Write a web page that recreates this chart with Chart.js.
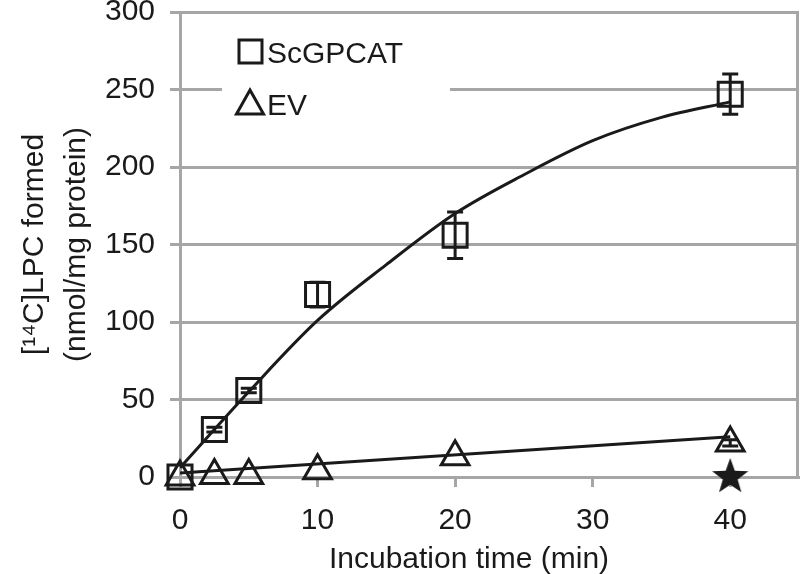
<!DOCTYPE html>
<html>
<head>
<meta charset="utf-8">
<script src="https://cdn.jsdelivr.net/npm/chart.js@4/dist/chart.umd.min.js"></script>
<style>
  body { margin: 0; background: #fff; }
  #wrap { width: 800px; height: 574px; }
</style>
</head>
<body>
<div id="wrap"><canvas id="myChart"></canvas></div>
<script>
// measured points (time in min)
const TIMES = [0, 2.5, 5, 10, 20, 40];
const gpcat_vals = [0, 30.6, 55.8, 117.7, 156, 247];
const gpcat_err = [0, 1.5, 1.5, 8, 15, 13];
const ev_vals = [0, 1, 1, 4, 13, 22];
const ev_err = [0, 0, 0, 0, 0, 2];

// fitted curves
const FIT_X = [0, 5, 10, 15, 20, 25, 30, 35, 40];
const gpcat_fit = [6, 55, 101, 137, 170, 195, 217, 232, 242];
const EV_FIT_X = [0, 40];
const ev_fit = [2.5, 26];

// star marker
const STAR_X = [40];
const star_vals = [0];

const X_TITLE = 'Incubation time (min)';

const INK = "#1a1a1a";
const GRID = "#a6a6a6";
const FONT = "'Liberation Sans', Arial, sans-serif";

const pts = (xs, ys) => xs.map((x, i) => ({ x: x, y: ys[i] }));

// filled star drawn on a small canvas, used as point style
function makeStar() {
  const c = document.createElement('canvas');
  c.width = 40; c.height = 40;
  const g = c.getContext('2d');
  g.beginPath();
  for (let i = 0; i < 10; i++) {
    const r = i % 2 === 0 ? 19 : 7.8;
    const a = -Math.PI / 2 + i * Math.PI / 5;
    const px = 20 + r * Math.cos(a), py = 20 + r * Math.sin(a);
    if (i === 0) g.moveTo(px, py); else g.lineTo(px, py);
  }
  g.closePath();
  g.fillStyle = INK;
  g.fill();
  return c;
}

// 오차 막대 + 범례 + x축 제목
const errorBars = {
  id: 'errorBars',
  afterDatasetsDraw(chart) {
    const ctx = chart.ctx;
    const xs = chart.scales.x, ys = chart.scales.y;
    const draw = (vals, errs) => {
      vals.forEach((v, i) => {
        const e = errs[i];
        if (!e) return;
        const px = xs.getPixelForValue(TIMES[i]);
        const y1 = ys.getPixelForValue(v - e), y2 = ys.getPixelForValue(v + e);
        ctx.save();
        ctx.strokeStyle = INK;
        ctx.lineWidth = 3;
        ctx.beginPath();
        ctx.moveTo(px, y1); ctx.lineTo(px, y2);
        ctx.moveTo(px - 8, y1); ctx.lineTo(px + 8, y1);
        ctx.moveTo(px - 8, y2); ctx.lineTo(px + 8, y2);
        ctx.stroke();
        ctx.restore();
      });
    };
    draw(gpcat_vals, gpcat_err);
    draw(ev_vals, ev_err);
  },
  afterDraw(chart) {
    const ctx = chart.ctx;
    const a = chart.chartArea;
    ctx.save();
    // right frame line
    ctx.strokeStyle = GRID;
    ctx.lineWidth = 3;
    ctx.beginPath();
    ctx.moveTo(a.right - 1.5, a.top);
    ctx.lineTo(a.right - 1.5, a.bottom);
    ctx.stroke();

    // legend box
    ctx.fillStyle = '#fff';
    ctx.fillRect(222, 26, 228, 100);
    ctx.strokeStyle = INK;
    ctx.lineWidth = 3;
    ctx.strokeRect(239, 40, 23, 23);
    ctx.beginPath();
    ctx.moveTo(250, 90); ctx.lineTo(263.5, 114); ctx.lineTo(236.5, 114);
    ctx.closePath();
    ctx.stroke();
    ctx.fillStyle = INK;
    ctx.font = "30px " + FONT;
    ctx.textBaseline = 'alphabetic';
    ctx.fillText(chart.data.datasets[0].label, 267, 63);
    ctx.fillText(chart.data.datasets[1].label, 267, 115);

    // x axis title
    ctx.textAlign = 'center';
    ctx.fillText(X_TITLE, 469, 568);
    ctx.restore();
  }
};

const config = {
  type: 'scatter',
  data: {
    datasets: [
      {
        label: 'ScGPCAT',
        data: pts(TIMES, gpcat_vals),
        pointStyle: 'rect',
        pointRadius: 17,
        pointHoverRadius: 17,
        borderColor: INK,
        backgroundColor: 'rgba(0,0,0,0)',
        pointBorderWidth: 3,
        clip: false
      },
      {
        label: 'EV',
        data: pts(TIMES, ev_vals),
        pointStyle: 'triangle',
        pointRadius: 16,
        pointHoverRadius: 16,
        borderColor: INK,
        backgroundColor: 'rgba(0,0,0,0)',
        pointBorderWidth: 3,
        clip: false
      },
      {
        label: 'ScGPCAT fit',
        data: pts(FIT_X, gpcat_fit),
        showLine: true,
        cubicInterpolationMode: 'monotone',
        pointRadius: 0,
        borderColor: INK,
        borderWidth: 3
      },
      {
        label: 'EV fit',
        data: pts(EV_FIT_X, ev_fit),
        showLine: true,
        pointRadius: 0,
        borderColor: INK,
        borderWidth: 3
      },
      {
        label: 'star',
        data: pts(STAR_X, star_vals),
        pointStyle: makeStar(),
        clip: false
      }
    ]
  },
  options: {
    responsive: true,
    maintainAspectRatio: false,
    animation: false,
    layout: { autoPadding: false, padding: { top: 12, right: 1, left: 0, bottom: 0 } },
    plugins: {
      legend: { display: false },
      tooltip: { enabled: false }
    },
    scales: {
      x: {
        type: 'linear',
        min: 0,
        max: 45,
        ticks: {
          stepSize: 10,
          includeBounds: false,
          padding: 16,
          color: INK,
          font: { family: FONT, size: 30 }
        },
        grid: {
          drawOnChartArea: false,
          drawTicks: true,
          tickLength: 10,
          color: GRID,
          lineWidth: 3
        },
        border: { color: GRID, width: 3 },
        title: { display: false, text: X_TITLE },
        afterFit(s) {
          s.height = 97;
          s.paddingLeft = 0;
          s.paddingRight = 0;
        }
      },
      y: {
        type: 'linear',
        min: 0,
        max: 300,
        ticks: {
          stepSize: 50,
          padding: 15,
          color: INK,
          font: { family: FONT, size: 30 }
        },
        grid: {
          tickLength: 10,
          color: GRID,
          lineWidth: 3
        },
        border: { color: GRID, width: 3 },
        title: {
          display: true,
          text: ['[¹⁴C]LPC formed', '(nmol/mg protein)'],
          color: INK,
          font: { family: FONT, size: 30, lineHeight: 1.4 },
          padding: { top: 14, bottom: 0 }
        },
        afterFit(s) {
          s.width = 180;
          s.paddingTop = 0;
          s.paddingBottom = 0;
        }
      }
    }
  },
  plugins: [errorBars]
};

const myChart = new Chart(document.getElementById('myChart'), config);
</script>
</body>
</html>
